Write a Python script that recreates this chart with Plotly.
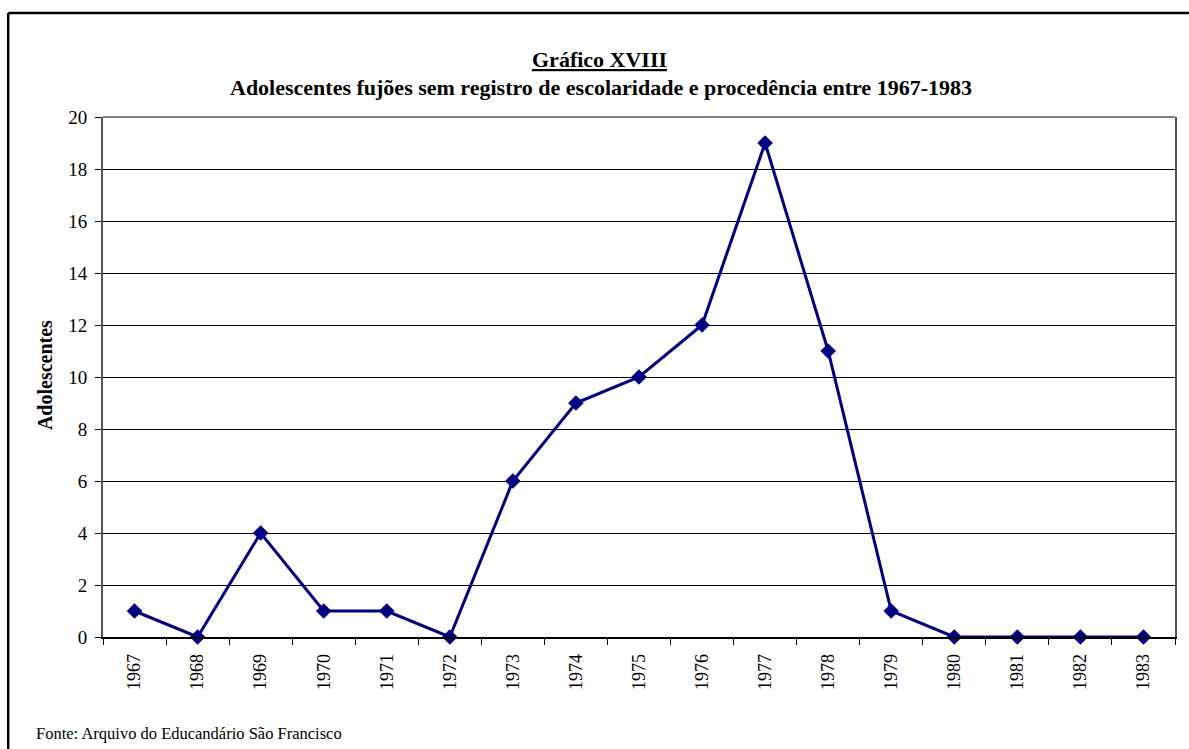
import plotly.graph_objects as go

years = ["1967", "1968", "1969", "1970", "1971", "1972", "1973", "1974", "1975",
         "1976", "1977", "1978", "1979", "1980", "1981", "1982", "1983"]
adolescentes = [1, 0, 4, 1, 1, 0, 6, 9, 10, 12, 19, 11, 1, 0, 0, 0, 0]
y_ticks = [0, 2, 4, 6, 8, 10, 12, 14, 16, 18, 20]

title_top = "Gráfico XVIII"
title_sub = "Adolescentes fujões sem registro de escolaridade e procedência entre 1967-1983"
y_title = "Adolescentes"
source_note = "Fonte: Arquivo do Educandário São Francisco"

W, H = 1189, 749
L, R, T, B = 103, 12, 117, 112
pw, ph = W - L - R, H - T - B


def px_x(x):
    return (x - L) / pw


def px_y(y):
    return 1 - (y - T) / ph


serif = "Liberation Serif, Times New Roman, serif"

fig = go.Figure()
fig.add_trace(go.Scatter(
    x=years, y=adolescentes, mode="lines+markers",
    line=dict(color="#000080", width=3),
    marker=dict(symbol="diamond", size=12, color="#000080"),
    showlegend=False, cliponaxis=False,
))

fig.update_layout(
    width=W, height=H,
    margin=dict(l=L, r=R, t=T, b=B),
    paper_bgcolor="white", plot_bgcolor="white",
    font=dict(family=serif, color="black", size=18),
    xaxis=dict(
        type="category", range=[-0.5, len(years) - 0.5],
        tickangle=-90, tickson="boundaries",
        ticks="outside", ticklen=6, tickcolor="black", tickwidth=1,
        ticklabelstandoff=8,
        showline=True, linecolor="black", linewidth=1.5,
        showgrid=False, zeroline=False,
        tickfont=dict(family=serif, size=18, color="black"),
    ),
    yaxis=dict(
        range=[0, 20], tickvals=y_ticks,
        ticks="outside", ticklen=6, tickcolor="black",
        ticklabelstandoff=4,
        showline=True, linecolor="#555555", linewidth=2, mirror=True,
        showgrid=True, gridcolor="black", gridwidth=1, zeroline=False,
        tickfont=dict(family=serif, size=19, color="black"),
    ),
    annotations=[
        dict(text="<b><u>" + title_top + "</u></b>", x=px_x(600), y=px_y(60),
             xref="paper", yref="paper", showarrow=False,
             font=dict(family=serif, size=22), xanchor="center", yanchor="middle"),
        dict(text="<b>" + title_sub + "</b>", x=px_x(602), y=px_y(88),
             xref="paper", yref="paper", showarrow=False,
             font=dict(family=serif, size=22), xanchor="center", yanchor="middle"),
        dict(text="<b>" + y_title + "</b>", x=px_x(45), y=px_y(375),
             xref="paper", yref="paper", showarrow=False, textangle=-90,
             font=dict(family=serif, size=20), xanchor="center", yanchor="middle"),
        dict(text=source_note, x=px_x(34), y=px_y(733),
             xref="paper", yref="paper", showarrow=False,
             font=dict(family=serif, size=16.5), xanchor="left", yanchor="middle"),
    ],
    shapes=[
        # frame around the chart: top and left edges
        dict(type="line", xref="paper", yref="paper",
             x0=px_x(8), x1=px_x(1195), y0=px_y(13), y1=px_y(13),
             line=dict(color="black", width=2.5)),
        dict(type="line", xref="paper", yref="paper",
             x0=px_x(8), x1=px_x(8), y0=px_y(13), y1=px_y(760),
             line=dict(color="black", width=2.5)),
        # grey top edge of the plot area
        dict(type="line", xref="paper", yref="paper",
             x0=0, x1=1, y0=1, y1=1, layer="above",
             line=dict(color="#808080", width=2)),
    ],
)

fig.write_html("out.html")
